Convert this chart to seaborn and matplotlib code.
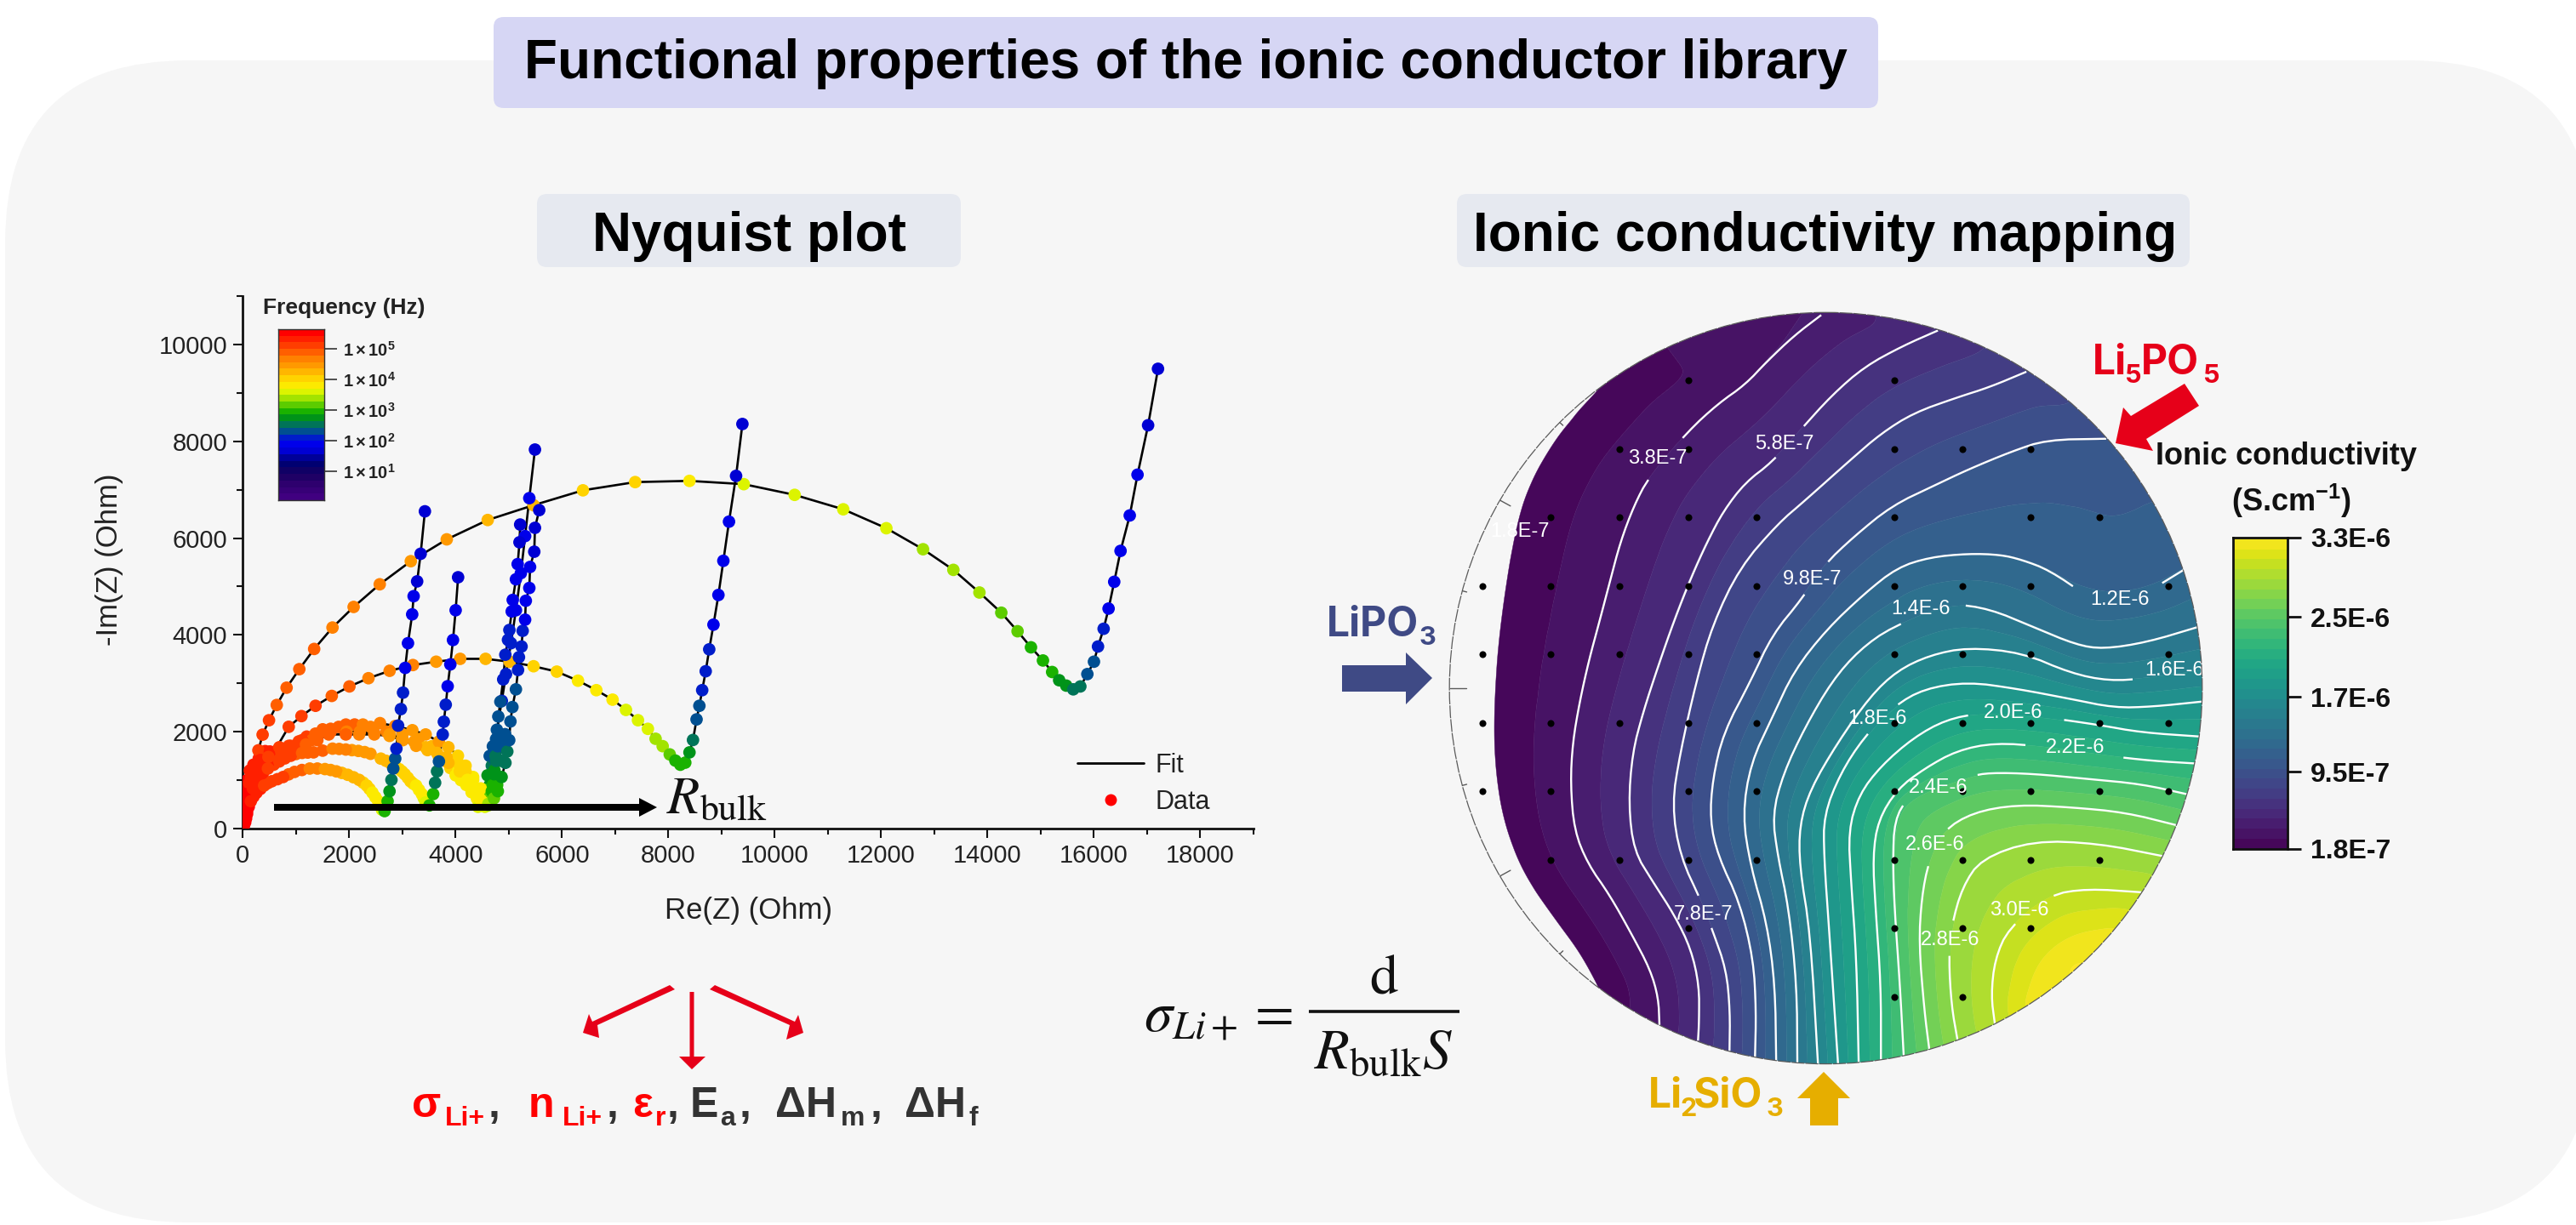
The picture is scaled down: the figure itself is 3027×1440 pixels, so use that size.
import numpy as np
import pandas as pd
import matplotlib
matplotlib.use("Agg")
import matplotlib.pyplot as plt
import matplotlib.tri as mtri
from matplotlib.colors import LinearSegmentedColormap
from matplotlib.lines import Line2D
from matplotlib.patches import FancyBboxPatch, Polygon, Ellipse
import seaborn as sns

# ---------- Nyquist data (Re, -Im in Ohm, log10 frequency) ----------
s1_re = [13,53,119,199,292,371,491,637,822,1061,1340,1685,2082,2573,3157,3833,4603,5465,6393,7375,8396,9417,10373,11287,12097,12787,13357,13847,14258,14564,14816,15041,15214,15346,15479,15611,15744,15876,16000,16076,16182,16275,16381,16500,16673,16819,17018,17204]
s1_im = [170,511,936,1319,1617,1940,2238,2553,2910,3293,3710,4153,4578,5046,5523,5974,6374,6680,6987,7157,7182,7114,6893,6595,6204,5770,5344,4876,4459,4076,3744,3472,3234,3064,2953,2876,2936,3191,3447,3761,4127,4544,5097,5736,6468,7310,8331,9497]
s1_lf = [5.6,5.5,5.4,5.3,5.2,5.1,5.0,4.95,4.9,4.85,4.8,4.7,4.65,4.6,4.5,4.4,4.25,4.15,4.1,3.95,3.85,3.65,3.6,3.55,3.5,3.4,3.35,3.3,3.25,3.15,3.05,2.95,2.85,2.75,2.7,2.6,2.5,2.4,2.3,2.1,2.0,1.95,1.9,1.9,1.85,1.8,1.75,1.7]
s2_re = [27,93,225,398,557,862,1101,1366,1671,2003,2361,2759,3197,3634,4085,4563,5014,5465,5902,6300,6645,6950,7202,7428,7614,7759,7892,8025,8131,8224,8317,8396,8462,8529,8582,8635,8701,8767,8847,8940,9033,9139,9272,9391]
s2_im = [128,511,894,1277,1532,2102,2323,2536,2740,2936,3106,3259,3378,3447,3506,3506,3447,3353,3242,3055,2859,2663,2451,2238,2060,1855,1702,1532,1404,1319,1362,1574,1830,2255,2536,2859,3250,3702,4212,4825,5531,6340,7285,8357]
s2_lf = [5.6,5.5,5.4,5.3,5.2,5.1,5.05,5.0,4.9,4.8,4.75,4.7,4.6,4.5,4.4,4.3,4.15,4.0,3.95,3.9,3.85,3.8,3.65,3.55,3.5,3.45,3.35,3.2,3.05,2.95,2.85,2.75,2.55,2.35,2.25,2.1,2.05,2.0,1.95,1.9,1.85,1.8,1.75,1.7]
s3_re = [43,78,150,293,471,650,864,1114,1364,1650,1936,2257,2578,2864,3186,3436,3686,3864,4043,4186,4329,4471,4578,4640,4700,4730,4750,4765,4775,4868,4947,5040,5133,5226,5306,5385,5491]
s3_im = [186,596,1006,1299,1533,1621,1709,1826,1961,2061,2149,2149,2178,2119,2032,1944,1797,1680,1504,1299,1065,830,508,600,900,1200,1500,1800,2042,2638,3191,3829,4510,5276,6042,6825,7829]
s3_lf = [5.6,5.5,5.4,5.3,5.2,5.15,5.1,5.0,4.9,4.85,4.8,4.75,4.65,4.6,4.55,4.45,4.4,4.3,4.1,3.95,3.9,3.85,3.6,3.2,3.0,2.8,2.5,2.4,2.35,2.2,2.1,2.0,1.95,1.9,1.85,1.8,1.7]
s4_re = [43,78,150,293,480,720,1007,1186,1400,1614,1936,2186,2471,2757,3007,3257,3471,3686,3864,4078,4221,4364,4471,4614,4721,4793,4864,4936,4971,5007,5030,5067,5133,5173,5190,5239,5260,5306,5319,5385,5399,5478,5491,5571]
s4_im = [250,640,1060,1357,1480,1590,1650,1738,1826,1944,1944,1944,1944,1914,1826,1709,1621,1475,1358,1182,1006,830,596,508,625,772,1065,1358,1592,1826,2213,2510,2876,3276,3540,3761,4085,4315,4706,4970,5404,5719,6212,6578]
s4_lf = [5.6,5.5,5.4,5.3,5.2,5.1,5.0,4.95,4.9,4.85,4.8,4.7,4.65,4.55,4.5,4.45,4.35,4.3,4.15,3.95,3.9,3.85,3.75,3.4,3.1,2.9,2.7,2.5,2.45,2.4,2.35,2.3,2.25,2.2,2.1,2.05,2.0,1.95,1.9,1.85,1.8,1.75,1.7,1.65]
s5_re = [78,114,185,293,471,685,900,1114,1328,1686,1935,2171,2400,2593,2778,2936,3043,3150,3257,3364,3436,3507,3578,3614,3650,3686,3757,3778,3814,3850,3900,3950,4000,4046]
s5_im = [361,596,830,1065,1240,1387,1504,1563,1574,1651,1633,1604,1545,1445,1346,1229,1123,977,889,713,537,479,713,947,1182,1387,1943,2207,2559,2940,3391,3895,4510,5191]
s5_lf = [5.6,5.5,5.4,5.3,5.2,5.1,5.0,4.9,4.85,4.75,4.65,4.5,4.4,4.3,4.2,4.1,4.0,3.95,3.85,3.75,3.6,3.0,2.85,2.6,2.45,2.35,2.1,2.05,2.0,1.95,1.9,1.85,1.8,1.7]
s6_re = [43,78,150,257,400,543,757,971,1257,1543,1757,1971,2185,2328,2435,2543,2614,2664,2721,2757,2793,2828,2864,2886,2918,2971,3011,3051,3104,3183,3210,3276,3342,3422]
s6_im = [127,303,566,742,889,977,1065,1170,1240,1229,1182,1111,1006,889,742,566,391,361,566,771,1006,1240,1445,1651,2127,2468,2808,3319,3829,4425,4800,5106,5676,6553]
s6_lf = [5.6,5.5,5.4,5.3,5.2,5.1,5.0,4.9,4.7,4.55,4.4,4.25,4.15,3.95,3.85,3.75,3.5,3.0,2.85,2.7,2.5,2.4,2.35,2.2,2.1,2.05,2.0,1.95,1.9,1.85,1.8,1.75,1.72,1.7]
s7_re = [43,78,185,328,507,685,900,1150,1400,1650,1950,2200,2471,2757,2993,3221,3436,3650,3829,4043,4186,4329,4436,4521,4614,4680,4721,4760,4790,4802,4841,4894,4934,4984,5010,5054,5073,5133,5166,5200,5213]
s7_im = [303,713,1123,1416,1592,1680,1709,1768,1914,2002,2002,2002,1973,1944,1856,1797,1680,1563,1475,1358,1182,1006,772,537,480,772,1123,1400,1700,2315,2621,3081,3591,3898,4102,4485,4723,5149,5463,5914,6280]
s7_lf = [5.6,5.5,5.4,5.3,5.25,5.2,5.1,5.0,4.95,4.85,4.75,4.7,4.6,4.5,4.45,4.4,4.35,4.3,4.25,4.1,3.95,3.9,3.85,3.75,3.3,2.9,2.7,2.45,2.4,2.35,2.3,2.2,2.1,2.05,2.0,1.95,1.9,1.85,1.8,1.75,1.7]
# further measured points in the dense low-impedance arcs (markers only)
dense_re = [20,60,110,200,330,470,650,860,1110,1400,1650,1860,2080,2260,2380,2490,2580,
            95,140,240,380,580,790,1000,1220,1500,1810,2050,2290,2690,2860,2990,3100,3200,3310,3400,
            3800,3900,4000,4100,4200,4300,4400,3950,4050,4150,4250,4350,4450,4500,4550,4420,
            30,50,40,80,130,220,300,420,180,260,360,500,640,800,950,1050,1200,1300,1500,1800,2100,2400,2700,3000,3300,3550,
            4640,4700,4760,4800,4680,4720,4850,4880,4930,4600,4640,4700,4780,4540]
dense_im = [60,210,450,660,820,940,1020,1120,1210,1240,1210,1150,1060,950,820,650,480,
            480,710,950,1150,1320,1450,1540,1570,1610,1645,1620,1580,1400,1290,1180,1050,930,800,630,
            1400,1250,1100,1000,900,750,620,1350,1200,1100,950,850,700,550,450,450,
            300,600,800,1000,1200,1300,1450,1600,850,1050,1250,1400,1500,1550,1700,1800,1900,1830,2050,2100,2150,2100,2000,1950,1850,1700,
            1500,1700,1850,1650,1300,1450,1400,1750,1950,1100,900,650,900,800]
dense_lf = [5.6,5.55,5.45,5.35,5.25,5.15,5.05,4.95,4.8,4.65,4.5,4.35,4.2,4.05,3.95,3.85,3.7,
            5.55,5.45,5.35,5.25,5.15,5.05,4.95,4.9,4.8,4.7,4.55,4.45,4.25,4.15,4.05,3.97,3.9,3.8,3.65,
            3.95,3.95,3.92,3.9,3.87,3.85,3.75,3.95,3.92,3.9,3.88,3.85,3.75,3.6,3.5,3.6,
            5.6,5.55,5.5,5.45,5.4,5.35,5.3,5.25,5.5,5.45,5.4,5.3,5.25,5.2,5.1,5.05,5.0,4.95,4.9,4.85,4.8,4.7,4.6,4.55,4.5,4.35,
            2.4,2.35,2.35,2.4,2.5,2.4,2.5,2.4,2.35,2.7,2.8,2.85,2.85,3.1]

nyq_xticks = [0,2000,4000,6000,8000,10000,12000,14000,16000,18000]
nyq_yticks = [0,2000,4000,6000,8000,10000]
freq_ticks = [1,2,3,4,5]
freq_node_logf = [0.1,0.47,0.84,1.17,1.44,1.67,1.95,2.15,2.37,2.6,2.83,3.07,3.3,3.53,3.73,3.95,4.18,4.4,4.6,4.82,5.05,5.29,5.56]
freq_node_col = ["#400080","#300070","#180060","#000070","#0000a0","#0000e0","#0000f0","#0030b0","#006080","#008040","#00a000","#30c000","#88d800","#c0f000","#f8f800","#ffe000","#ffc800","#ffa800","#ff9000","#ff7a00","#ff5000","#ff3000","#ff0000"]

# ---------- wafer map (positions in wafer reading units, conductivity in S/cm) ----------
contour_values = [1.8e-7,3.8e-7,5.8e-7,7.8e-7,9.8e-7,1.18e-6,1.38e-6,1.58e-6,1.78e-6,1.98e-6,2.18e-6,2.38e-6,2.58e-6,2.78e-6,2.98e-6]
c_018 = [(285,190),(240,240),(200,290),(150,380),(125,470),(105,600),(92,720),(87,840),(90,930),(105,1030),(140,1130),(200,1220),(250,1290),(285,1360)]
c_038 = [(690,50),(640,90),(590,140),(550,185),(500,222),(445,275),(372,365),(345,420),(320,490),(300,570),(280,650),(262,720),(245,800),(232,880),(228,960),(235,1050),(260,1115),(300,1175),(340,1250),(375,1320),(390,1375),(392,1428)]
c_058 = [(905,80),(840,110),(770,150),(710,205),(650,275),(600,335),(550,375),(510,430),(480,490),(450,560),(420,640),(390,730),(362,820),(342,900),(335,1000),(345,1090),(380,1150),(420,1215),(450,1280),(465,1350),(465,1420),(463,1458)]
c_078 = [(1068,160),(1000,190),(940,210),(860,240),(800,280),(745,330),(660,410),(610,455),(540,540),(490,650),(460,760),(430,900),(415,1000),(430,1100),(470,1190),(490,1245),(515,1320),(522,1400),(521,1478)]
c_098 = [(1215,290),(1105,292),(1040,315),(960,350),(900,380),(820,420),(750,480),(695,535),(655,600),(600,670),(560,760),(510,860),(490,950),(485,1030),(500,1100),(540,1190),(565,1300),(570,1400),(568,1490)]
c_120 = [(1357,545),(1295,585),(1180,595),(1110,545),(1060,525),(1020,515),(960,513),(890,520),(830,540),(770,590),(700,660),(640,740),(600,830),(560,920),(545,1020),(560,1120),(590,1230),(605,1350),(607,1497)]
c_140 = [(1385,655),(1290,685),(1210,698),(1160,690),(1080,655),(1000,620),(930,610),(820,655),(760,700),(710,760),(660,850),(620,940),(600,1020),(610,1100),(630,1200),(645,1350),(646,1501)]
c_160 = [(1392,740),(1290,755),(1220,760),(1150,745),(1060,705),(960,695),(890,710),(830,740),(780,790),(720,880),(670,970),(650,1040),(650,1120),(670,1250),(684,1503)]
c_180 = [(1392,800),(1300,810),(1230,812),(1150,795),(1050,775),(960,762),(880,775),(825,808),(768,870),(725,940),(695,1020),(695,1100),(705,1250),(721,1503)]
c_200 = [(1390,868),(1280,860),(1200,845),(1100,830),(985,822),(920,835),(860,870),(800,925),(760,980),(740,1050),(745,1150),(755,1300),(759,1500)]
c_220 = [(1378,920),(1300,915),(1215,905),(1100,887),(1010,880),(940,895),(880,930),(830,970),(795,1030),(785,1100),(790,1200),(800,1350),(800,1495)]
c_240 = [(1365,980),(1280,960),(1180,950),(1080,940),(1000,938),(965,945),(850,985),(825,1030),(822,1110),(825,1200),(835,1350),(842,1488)]
c_260 = [(1345,1040),(1250,1015),(1150,1005),(1050,1000),(970,1015),(915,1050),(888,1110),(875,1180),(870,1270),(880,1400),(889,1474)]
c_280 = [(1320,1100),(1200,1075),(1080,1070),(985,1105),(950,1160),(930,1235),(925,1300),(930,1390),(941,1456)]
c_300 = [(1280,1170),(1180,1163),(1110,1175),(1035,1240),(1010,1300),(1003,1370),(1010,1426)]
yellow_edge_value = 3.18e-6
yellow_edge = [(1235,1235),(1150,1250),(1090,1300),(1065,1370),(1060,1396)]
peak_value = 3.3e-6
peak_point = (1160,1317)
low_value = 0.0
low_points = [(130,60),(60,240),(0,400),(-40,600),(-50,840),(-40,1030),(20,1180),(80,1310),(150,1450)]
contour_names = [c_018,c_038,c_058,c_078,c_098,c_120,c_140,c_160,c_180,c_200,c_220,c_240,c_260,c_280,c_300]
label_text = ["1.8E-7","3.8E-7","5.8E-7","7.8E-7","9.8E-7","1.2E-6","1.4E-6","1.6E-6","1.8E-6","2.0E-6","2.2E-6","2.4E-6","2.6E-6","2.8E-6","3.0E-6"]
label_x = [135,388,622,473,673,1240,873,1340,793,1043,1158,905,900,927,1055]
label_y = [470,328,300,1213,562,602,620,740,833,822,890,968,1078,1262,1205]
site_x = [445,824, 319,445,824,950,1076, 192,319,445,571,824,1076,1203, 66,192,319,445,571,824,950,1076,1329, 66,192,319,445,571,824,950,1076,1329, 66,192,319,445,571,824,950,1076,1203,1329, 66,192,445,571,824,950,1076,1203,1329, 192,319,445,571,824,950,1076,1203, 445,824,950,1076, 824,950]
site_y = [177,177, 310,310,310,310,310, 443,443,443,443,443,443,443, 576,576,576,576,576,576,576,576,576, 708,708,708,708,708,708,708,708,708, 841,841,841,841,841,841,841,841,841,841, 974,974,974,974,974,974,974,974,974, 1107,1107,1107,1107,1107,1107,1107,1107, 1240,1240,1240,1240, 1373,1373]
cond_ticks = [1.8e-7,9.5e-7,1.7e-6,2.5e-6,3.3e-6]
cond_tick_labels = ["1.8E-7","9.5E-7","1.7E-6","2.5E-6","3.3E-6"]
rim_tick_deg = [180,165,195,150,210,135,225]
rim_tick_len = [30,8,8,22,22,8,8]

W, H = 3027, 1440
sns.set_theme(style="ticks")
plt.rcParams["font.family"] = ["Liberation Sans", "DejaVu Sans"]
plt.rcParams["mathtext.fontset"] = "custom"
plt.rcParams["mathtext.rm"] = "Liberation Sans"
plt.rcParams["mathtext.it"] = "Liberation Sans:italic"
plt.rcParams["mathtext.bf"] = "Liberation Sans:bold"

fig = plt.figure(figsize=(W/100, H/100), dpi=100, facecolor="white")

def axes_px(x0, y0, x1, y1, **kw):
    return fig.add_axes([x0/W, 1-y1/H, (x1-x0)/W, (y1-y0)/H], **kw)

# ---------- background layer ----------
bg = axes_px(0, 0, W, H, zorder=-5)
bg.set_xlim(0, W); bg.set_ylim(H, 0); bg.axis("off")
bg.add_patch(FancyBboxPatch((6, 71), 3040, 1366, boxstyle="round,pad=0,rounding_size=215", fc="#f6f6f6", ec="none"))
for (x0, y0, x1, y1, col) in [(580,20,2207,127,"#d6d6f4"), (631,228,1129,314,"#e6e9f0"), (1712,228,2573,314,"#e6e9f0")]:
    bg.add_patch(FancyBboxPatch((x0, y0), x1-x0, y1-y0, boxstyle="round,pad=0,rounding_size=12", fc=col, ec="none"))

# ---------- Nyquist plot ----------
ax = axes_px(285.4, 348, 1473, 974)
ax.patch.set_alpha(0)
freq_low, freq_high = 0.06, 5.64
node_pos = [(v-freq_low)/(freq_high-freq_low) for v in freq_node_logf]
node_pos[0], node_pos[-1] = 0.0, 1.0
freq_cmap = LinearSegmentedColormap.from_list("freq", list(zip(node_pos, freq_node_col)), N=26)

frames = []
for i, (re, im, lf) in enumerate([(s1_re,s1_im,s1_lf),(s2_re,s2_im,s2_lf),(s3_re,s3_im,s3_lf),(s7_re,s7_im,s7_lf),(s4_re,s4_im,s4_lf),(s5_re,s5_im,s5_lf),(s6_re,s6_im,s6_lf)]):
    frames.append(pd.DataFrame({"re": re, "im": im, "lf": lf, "series": i}))
nyq = pd.concat(frames, ignore_index=True)
dense = pd.DataFrame({"re": dense_re, "im": dense_im, "lf": dense_lf})
sns.lineplot(data=nyq, x="re", y="im", units="series", estimator=None, sort=False, color="black", lw=1.9, ax=ax, legend=False, zorder=2)
sns.scatterplot(data=pd.concat([dense, nyq], ignore_index=True), x="re", y="im", hue="lf", hue_norm=(freq_low, freq_high), palette=freq_cmap, s=112, linewidth=0, legend=False, ax=ax, zorder=3)
ax.set_xlim(0, 19000); ax.set_ylim(0, 11000)
ax.set_xticks(nyq_xticks); ax.set_yticks(nyq_yticks)
ax.set_xticks(np.arange(1000, 19001, 2000), minor=True)
ax.set_yticks(np.arange(1000, 11001, 2000), minor=True)
for s in ["top", "right"]:
    ax.spines[s].set_visible(False)
for s in ["left", "bottom"]:
    ax.spines[s].set_linewidth(2.0); ax.spines[s].set_color("#111111")
ax.tick_params(which="major", length=8, width=1.5, labelsize=21, color="#111111", labelcolor="#222222", pad=5)
ax.tick_params(which="minor", length=5, width=1.5, color="#111111")
ax.set_xlabel("Re(Z) (Ohm)", fontsize=25, color="#222222")
ax.set_ylabel("-Im(Z) (Ohm)", fontsize=25, color="#222222")
ax.xaxis.set_label_coords(0.5, -0.127)
ax.yaxis.set_label_coords(-0.118, 0.505)

# frequency colourbar
cax = axes_px(327, 387, 381, 588)
edges = np.linspace(freq_low, freq_high, 27)
cax.pcolormesh([0, 1], edges, ((edges[:-1]+edges[1:])/2)[:, None], cmap=freq_cmap, vmin=freq_low, vmax=freq_high)
cax.set_xticks([]); cax.yaxis.tick_right()
cax.set_yticks(freq_ticks)
cax.set_yticklabels([r"$\mathbf{1\times10^{%d}}$" % t for t in freq_ticks], fontsize=14.5, color="#222222")
cax.tick_params(axis="y", length=11, width=1.2, color="#333333", pad=5)
for s in cax.spines.values():
    s.set_linewidth(1.0); s.set_color("#333333")

# ---------- conductivity map ----------
mx0, my0, mx1, my1 = 5, 45, 1392, 1503
cu, cv = (mx0+mx1)/2, (my0+my1)/2
mp = axes_px(1703.2, 367.3, 2587.8, 1250.6)
mp.set_xlim(mx0, mx1); mp.set_ylim(my1, my0); mp.axis("off")

def chaikin(pts, n=2):
    p = np.asarray(pts, float)
    for _ in range(n):
        q = 0.75*p[:-1]+0.25*p[1:]
        r = 0.25*p[:-1]+0.75*p[1:]
        mid = np.empty((2*len(q), 2)); mid[0::2] = q; mid[1::2] = r
        p = np.vstack([p[0], mid, p[-1]])
    return p

fx, fy, fz = [], [], []
def add_field(pts, val):
    p = chaikin(pts)
    fx.extend(p[:, 0]); fy.extend(p[:, 1]); fz.extend([val]*len(p))
    for e in (p[0], p[-1]):
        fx.append(cu+(e[0]-cu)*1.35); fy.append(cv+(e[1]-cv)*1.35); fz.append(val)
for pts, val in zip(contour_names, contour_values):
    add_field(pts, val)
add_field(yellow_edge, yellow_edge_value)
fx.append(peak_point[0]); fy.append(peak_point[1]); fz.append(peak_value)
fx.append(cu+(peak_point[0]-cu)*1.35); fy.append(cv+(peak_point[1]-cv)*1.35); fz.append(peak_value)
for p in low_points:
    fx.append(p[0]); fy.append(p[1]); fz.append(low_value)
for p in [(-300,100),(-400,774),(-300,1450)]:
    fx.append(p[0]); fy.append(p[1]); fz.append(low_value)

tri = mtri.Triangulation(np.array(fx), np.array(fy))
interp = mtri.LinearTriInterpolator(tri, np.array(fz))
gx, gy = np.meshgrid(np.linspace(-60, 1460, 507), np.linspace(-20, 1570, 530))
gz = np.ma.filled(interp(gx, gy), low_value)
sig = 3.0
k = np.exp(-0.5*(np.arange(-10, 11)/sig)**2); k /= k.sum()
def blur(a, axis):
    pad = [(10, 10) if i == axis else (0, 0) for i in range(2)]
    return np.apply_along_axis(lambda m: np.convolve(m, k, mode="valid"), axis, np.pad(a, pad, mode="edge"))
gz = blur(blur(gz, 0), 1)

vmin, vmax = 1.8e-7, 3.3e-6
levels = 1.8e-7 + 1e-7*np.arange(33)
wafer = Ellipse((cu, cv), mx1-mx0, my1-my0, transform=mp.transData, fc="none", ec="none")
mp.add_patch(wafer)
cf = mp.contourf(gx, gy, gz, levels=levels, cmap="viridis", vmin=vmin, vmax=vmax, antialiased=True, zorder=1)
cf.set_edgecolor("face"); cf.set_linewidth(0.3)
cf.set_clip_path(wafer)

for idx, (pts, tx, ty, lab) in enumerate(zip(contour_names, label_x, label_y, label_text)):
    if idx > 0:  # the lowest level is the edge of the filled area
        p = chaikin(pts)
        hide = (np.abs(p[:, 0]-tx) < 70) & (np.abs(p[:, 1]-ty) < 26)
        px = p[:, 0].copy(); py = p[:, 1].copy()
        px[hide] = np.nan; py[hide] = np.nan
        ln, = mp.plot(px, py, color="white", lw=1.7, zorder=2, solid_capstyle="butt")
        ln.set_clip_path(wafer)
    t = mp.text(tx, ty, lab, color="white", fontsize=17, ha="center", va="center", zorder=4)
    t.set_clip_path(wafer)

sites = pd.DataFrame({"x": site_x, "y": site_y})
sns.scatterplot(data=sites, x="x", y="y", color="black", s=34, linewidth=0, ax=mp, zorder=3, legend=False)
mp.set_xlim(mx0, mx1); mp.set_ylim(my1, my0); mp.axis("off")
mp.add_patch(Ellipse((cu, cv), mx1-mx0, my1-my0, fc="none", ec="#5a5a5a", lw=0.9, ls=(0, (12, 1)), zorder=5, clip_on=False))
for deg, ln_ in zip(rim_tick_deg, rim_tick_len):
    c, s = np.cos(np.radians(deg)), np.sin(np.radians(deg))
    mp.plot([cu+693*c, cu+(693-ln_)*c], [cv-729*s, cv-(729-ln_)*s], color="#5a5a5a", lw=1.0, zorder=5)

# conductivity colourbar
kax = axes_px(2623.5, 631.5, 2688, 997.6)
bar_levels = np.clip(levels, vmin, vmax)
kax.pcolormesh([0, 1], bar_levels, ((levels[:-1]+levels[1:])/2)[:, None], cmap="viridis", vmin=vmin, vmax=vmax)
kax.set_ylim(vmin, vmax); kax.set_xticks([]); kax.yaxis.tick_right()
kax.set_yticks(cond_ticks); kax.set_yticklabels(cond_tick_labels, fontsize=23, fontweight="bold", color="#111111")
kax.tick_params(axis="y", length=11.5, width=2, color="#111111", pad=8)
for s in kax.spines.values():
    s.set_linewidth(2); s.set_color("#111111")

# ---------- annotation layer ----------
ov = axes_px(0, 0, W, H, zorder=10)
ov.set_xlim(0, W); ov.set_ylim(H, 0); ov.axis("off"); ov.patch.set_alpha(0)

ov.text(1393.5, 75, "Functional properties of the ionic conductor library", fontsize=46, fontweight="bold", ha="center", va="center", color="black")
ov.text(880, 278, "Nyquist plot", fontsize=46, fontweight="bold", ha="center", va="center", color="black")
ov.text(2145, 278, "Ionic conductivity mapping", fontsize=46, fontweight="bold", ha="center", va="center", color="black")
ov.text(309, 362, "Frequency (Hz)", fontsize=19, fontweight="bold", ha="left", va="center", color="#222222")
ov.text(2687, 536, "Ionic conductivity", fontsize=26, fontweight="bold", ha="center", va="center", color="#111111")
ov.text(2692, 589, r"(S.cm$^{\mathbf{-1}}$)", fontsize=26, fontweight="bold", ha="center", va="center", color="#111111")

# R_bulk arrow and label
ov.add_patch(Polygon([(322, 945), (751, 945), (751, 938), (772, 949), (751, 960), (751, 953), (322, 953)], fc="black", ec="none"))
ov.text(783, 956, r"$R_{\mathrm{bulk}}$", fontsize=45, math_fontfamily="stix", ha="left", va="baseline", color="#111111")

# Nyquist legend
handles = [Line2D([], [], color="black", lw=2), Line2D([], [], color="red", marker="o", ms=9, ls="none")]
leg = ax.legend(handles, ["Fit", "Data"], frameon=False, fontsize=22, loc="upper left",
                bbox_to_anchor=(1266, 885), bbox_transform=ov.transData, borderpad=0, borderaxespad=0,
                handlelength=2.55, handletextpad=0.45, labelspacing=0.42)
for tx_ in leg.get_texts():
    tx_.set_color("#222222")

# compound arrows
navy, red, gold = "#3f4a85", "#e60019", "#e6ae00"
ov.add_patch(Polygon([(1577,782),(1652,782),(1652,767),(1683,797),(1652,828),(1652,813),(1577,813)], fc=navy, ec="none"))
ov.add_patch(Polygon([(2567,451),(2504,489),(2495,479),(2486,521),(2530,530),(2522,516),(2584,477)], fc=red, ec="none"))
ov.add_patch(Polygon([(2143,1260),(2112,1291),(2127,1291),(2127,1323),(2160,1323),(2160,1291),(2174,1291)], fc=gold, ec="none"))

def formula(parts, base, sub, col, fam="Inter"):
    for txt, x, is_sub in parts:
        ov.text(x, sub if is_sub else base, txt, fontsize=22 if is_sub else 34.5, fontweight="bold", family=fam, color=col, ha="left", va="baseline")
formula([("LiPO", 1559, False), ("3", 1668, True)], 748, 758, navy)
formula([("Li", 2459, False), ("5", 2497, True), ("PO", 2516, False), ("5", 2589, True)], 440, 450, red)
formula([("Li", 1937, False), ("2", 1974, True), ("SiO", 1990, False), ("3", 2076, True)], 1302, 1312, gold)

# red arrows below the Nyquist plot
ov.add_patch(Polygon([(787,1158),(793,1163),(702,1205),(704,1220),(685,1214),(692,1192),(696,1201)], fc=red, ec="none"))
ov.add_patch(Polygon([(810.5,1166),(815.5,1166),(815.5,1242),(829,1242),(813,1257),(798,1242),(810.5,1242)], fc=red, ec="none"))
ov.add_patch(Polygon([(840,1158),(834,1163),(928,1205),(924,1222),(944,1214),(938,1193),(934,1201)], fc=red, ec="none"))

# quantity list
dark = "#333333"
row_base, row_sub = 1313, 1323
for txt, x, col, is_sub in [("σ",484,"#ff0000",False),("Li+",523,"#ff0000",True),(",",574,dark,False),
                            ("n",621,"#ff0000",False),("Li+",661,"#ff0000",True),(",",713,dark,False),
                            ("ε",743,"#ff0000",False),("r",770,"#ff0000",True),(",",784,dark,False),
                            ("E",811,dark,False),("a",846,dark,True),(",",869,dark,False),
                            ("ΔH",911,dark,False),("m",988,dark,True),(",",1023,dark,False),
                            ("ΔH",1063,dark,False),("f",1139,dark,True)]:
    ov.text(x, row_sub if is_sub else row_base, txt, fontsize=23 if is_sub else 36, fontweight="bold", color=col, ha="left", va="baseline")

# conductivity formula
ov.text(1344, 1212, r"$\sigma_{Li+}=$", fontsize=48, math_fontfamily="stix", ha="left", va="baseline", color="#111111")
ov.plot([1538, 1715], [1189, 1189], color="#111111", lw=2.6, solid_capstyle="butt")
ov.text(1626, 1168, r"$\mathrm{d}$", fontsize=48, math_fontfamily="stix", ha="center", va="baseline", color="#111111")
ov.text(1626, 1256, r"$R_{\mathrm{bulk}}S$", fontsize=48, math_fontfamily="stix", ha="center", va="baseline", color="#111111")

fig.savefig("out.png", dpi=100, facecolor="white")
